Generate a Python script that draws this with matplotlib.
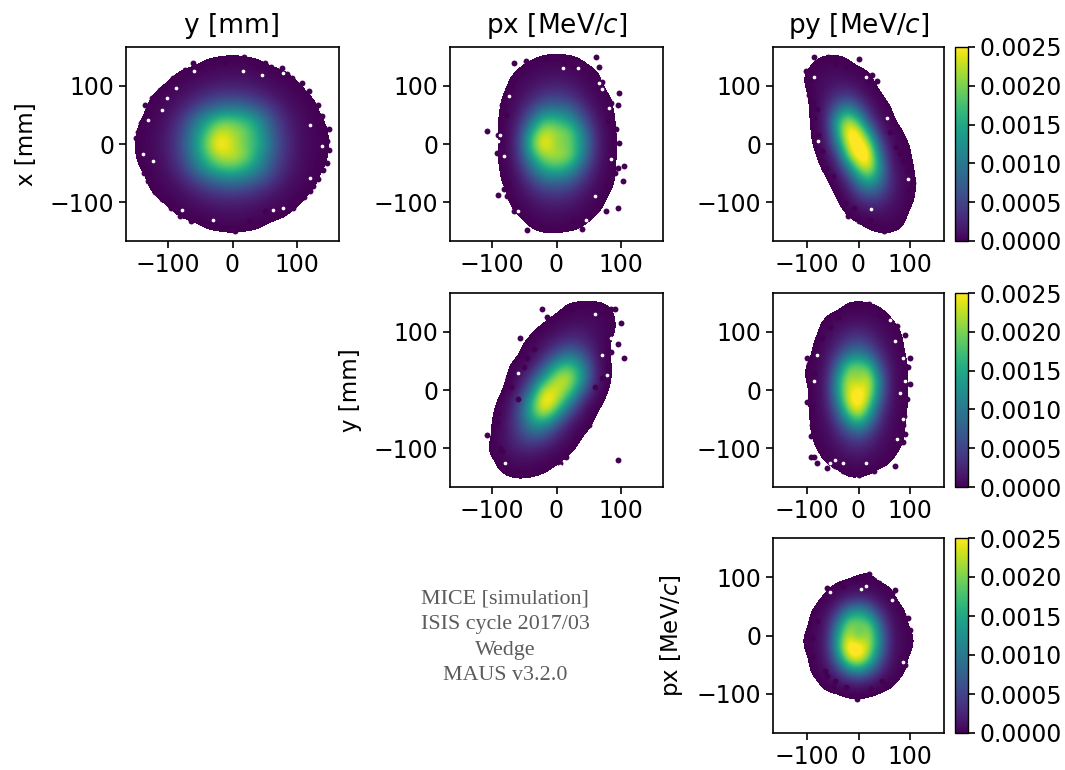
import numpy as np
import matplotlib
matplotlib.use("Agg")
import matplotlib.pyplot as plt
from matplotlib.colors import Normalize
from matplotlib.cm import ScalarMappable

W, H = 1065, 770
bin_centres = list(range(-160, 161, 20))

# Density in units of 1e-4, rows from +160 down to -160, columns from -160 to +160
x_vs_y = [
[0,0,0,0,0,0,0,0,0,0,0,0,0,0,0,0,0],
[0,0,0,0,0,0,.2,.3,.4,.3,.2,0,0,0,0,0,0],
[0,0,0,0,.2,.4,.7,1,1.1,1,.7,.4,.2,0,0,0,0],
[0,0,0,.2,.6,1.1,1.7,2.2,2.3,2.1,1.6,1,.6,.2,0,0,0],
[0,0,.2,.6,1.2,2.4,3.8,5,5.3,4.8,3.5,2.2,1.1,.5,.15,0,0],
[0,0,.4,1,2.3,5,8,10,11,10,7.5,4.5,2,.9,.4,0,0],
[0,.15,.6,1.5,4,9,14,19,19,17,13,7,3,1.2,.5,.15,0],
[0,.25,.8,2,5,11,18,24,22,20,15,8,3.7,1.4,.6,.25,0],
[0,.3,.9,2.2,5.5,12,20,27,23,19,16,9,4,1.5,.6,.3,0],
[0,.3,.8,2,5,11,18,23,23,21,14,8,3.7,1.4,.6,.25,0],
[0,.15,.6,1.5,4,8.5,14,18,19,16,12,6.5,3,1.2,.5,.15,0],
[0,0,.4,1,2.3,5,8,10,11,10,7.5,4.5,2,.9,.4,0,0],
[0,0,.2,.6,1.2,2.4,3.8,5,5.3,4.8,3.5,2.2,1.1,.5,.15,0,0],
[0,0,0,.2,.6,1.1,1.7,2.2,2.3,2.1,1.6,1,.6,.2,0,0,0],
[0,0,0,0,.2,.4,.7,1,1.1,1,.7,.4,.2,0,0,0,0],
[0,0,0,0,0,0,.2,.3,.4,.3,.2,0,0,0,0,0,0],
[0,0,0,0,0,0,0,0,0,0,0,0,0,0,0,0,0],
]
x_vs_px = [
[0,0,0,0,0,0,0,0,0,0,0,0,0,0,0,0,0],
[0,0,0,0,0,0,.15,.4,.5,.4,.15,0,0,0,0,0,0],
[0,0,0,0,0,.2,.7,1,1.1,.9,.5,.2,0,0,0,0,0],
[0,0,0,0,0,.6,1.3,2.2,2.5,2,1,.3,0,0,0,0,0],
[0,0,0,0,.15,.9,2.5,4.5,5,4,1.9,.6,.15,0,0,0,0],
[0,0,0,0,.2,1.4,5,9.5,10,8.5,4,1,.2,0,0,0,0],
[0,0,0,0,.25,2.2,9,18,17,14,7,1.7,.25,0,0,0,0],
[0,0,0,0,.25,3,15,24,21,20,11,2.5,.3,0,0,0,0],
[0,0,0,0,.25,3.3,18,27,20,20,12,2.8,.3,0,0,0,0],
[0,0,0,0,.25,3,14,22,22,21,11,2.5,.3,0,0,0,0],
[0,0,0,0,.2,2,9,16,18,15,7,1.8,.3,0,0,0,0],
[0,0,0,0,.15,1.3,5,9.5,10,8.5,4,1.1,.25,0,0,0,0],
[0,0,0,0,0,.8,2.5,4.5,5,4,2,.7,.15,0,0,0,0],
[0,0,0,0,0,.4,1.2,2.2,2.5,2,1,.4,0,0,0,0,0],
[0,0,0,0,0,.1,.5,1,1.1,.9,.4,.15,0,0,0,0,0],
[0,0,0,0,0,0,.15,.4,.4,.3,.15,0,0,0,0,0,0],
[0,0,0,0,0,0,0,0,0,0,0,0,0,0,0,0,0],
]
x_vs_py = [
[0,0,0,0,0,0,0,0,0,0,0,0,0,0,0,0,0],
[0,0,0,0,.2,.4,.4,.2,0,0,0,0,0,0,0,0,0],
[0,0,0,.2,.5,.8,.8,.6,.4,.15,0,0,0,0,0,0,0],
[0,0,0,.15,.7,1.3,2,2,1,.4,0,0,0,0,0,0,0],
[0,0,0,0,.6,2,4,5,3,1,.25,0,0,0,0,0,0],
[0,0,0,0,.5,3,9,13,8,2.5,.7,.15,0,0,0,0,0],
[0,0,0,0,.4,3.5,16,23,17,6,1.3,.3,0,0,0,0,0],
[0,0,0,0,.3,2.8,15,27,26,14,3,.8,.2,0,0,0,0],
[0,0,0,0,.2,1.8,11,25,28,23,7,1.2,.4,.1,0,0,0],
[0,0,0,0,0,1,5,20,28,27,11,2,.5,.15,0,0,0],
[0,0,0,0,0,.3,2.5,10,21,25,14,2.8,.8,.2,0,0,0],
[0,0,0,0,0,0,.8,4,12,17,11,3.5,1,.3,0,0,0],
[0,0,0,0,0,0,.2,1.8,6,9,7,3,1,.3,0,0,0],
[0,0,0,0,0,0,0,.6,2.2,3.5,3.2,1.8,.7,.2,0,0,0],
[0,0,0,0,0,0,0,.1,.5,1,1.1,.9,.5,0,0,0,0],
[0,0,0,0,0,0,0,0,0,.2,.4,.4,.2,0,0,0,0],
[0,0,0,0,0,0,0,0,0,0,0,0,0,0,0,0,0],
]
y_vs_px = [
[0,0,0,0,0,0,0,0,0,0,0,0,0,0,0,0,0],
[0,0,0,0,0,0,0,0,0,.3,.4,.4,.2,0,0,0,0],
[0,0,0,0,0,0,0,0,.3,.7,.9,.7,.3,0,0,0,0],
[0,0,0,0,0,0,0,.4,1.2,2,2,1,.3,0,0,0,0],
[0,0,0,0,0,0,.3,1.2,3,4.5,3.5,1.3,0,0,0,0,0],
[0,0,0,0,0,0,.7,2.8,7,11,7,1.5,0,0,0,0,0],
[0,0,0,0,0,.4,1.6,7,16,19,12,2,0,0,0,0,0],
[0,0,0,0,0,.7,5,14,23,23,13,2,0,0,0,0,0],
[0,0,0,0,0,1.5,9,24,24,20,8,.8,0,0,0,0,0],
[0,0,0,0,.3,4,15,28,23,12,2.5,.3,0,0,0,0,0],
[0,0,0,0,.7,5,16,24,15,5,1,0,0,0,0,0,0],
[0,0,0,0,1.1,5,12,13,6,1.6,.4,0,0,0,0,0,0],
[0,0,0,0,1.2,4,7,6,2.5,.7,0,0,0,0,0,0,0],
[0,0,0,.2,1.1,2.5,3,2,.9,.2,0,0,0,0,0,0,0],
[0,0,0,0,.6,1,1,.6,.2,0,0,0,0,0,0,0,0],
[0,0,0,0,.2,.4,.3,.15,0,0,0,0,0,0,0,0,0],
[0,0,0,0,0,0,0,0,0,0,0,0,0,0,0,0,0],
]
y_vs_py = [
[0,0,0,0,0,0,0,0,0,0,0,0,0,0,0,0,0],
[0,0,0,0,0,0,0,.3,.4,.3,.15,0,0,0,0,0,0],
[0,0,0,0,0,.2,.6,.9,1,.9,.6,.2,0,0,0,0,0],
[0,0,0,0,0,.7,1.4,2.5,3,2.2,1.1,.5,.15,0,0,0,0],
[0,0,0,0,.2,1,2.5,5,6,4.5,2,.8,.2,0,0,0,0],
[0,0,0,0,.3,1.5,5,10,12,9,4,1.2,.3,0,0,0,0],
[0,0,0,.15,.5,2,9,19,20,18,7,1.6,.5,0,0,0,0],
[0,0,0,.15,.6,2.5,13,23,20,24,11,1.8,.5,0,0,0,0],
[0,0,0,0,.6,2.5,14,24,26,24,11,1.8,.5,0,0,0,0],
[0,0,0,0,.6,2.3,11,24,28,21,8,1.5,.5,0,0,0,0],
[0,0,0,0,.5,1.8,7,18,24,15,5,1.2,.4,0,0,0,0],
[0,0,0,0,.4,1.2,4,10,14,9,3,.9,.3,0,0,0,0],
[0,0,0,0,.3,.9,2.2,4.5,6,4,1.6,.7,.25,0,0,0,0],
[0,0,0,0,.1,.6,1.2,2.2,2.6,2,1,.4,.15,0,0,0,0],
[0,0,0,0,0,.2,.6,.9,1.1,.8,.5,.2,0,0,0,0,0],
[0,0,0,0,0,0,0,.3,.3,.2,0,0,0,0,0,0,0],
[0,0,0,0,0,0,0,0,0,0,0,0,0,0,0,0,0],
]
px_vs_py = [
[0,0,0,0,0,0,0,0,0,0,0,0,0,0,0,0,0],
[0,0,0,0,0,0,0,0,0,0,0,0,0,0,0,0,0],
[0,0,0,0,0,0,0,0,0,0,0,0,0,0,0,0,0],
[0,0,0,0,0,0,0,0,.15,.25,0,0,0,0,0,0,0],
[0,0,0,0,0,0,.3,.6,.8,.6,.3,.15,0,0,0,0,0],
[0,0,0,0,0,.4,1.4,3,4,3,1.3,.4,0,0,0,0,0],
[0,0,0,0,.3,1.2,4.5,12,15,11,4,1,.3,0,0,0,0],
[0,0,0,0,.6,2,10,21,20,20,9,1.8,.5,0,0,0,0],
[0,0,0,.2,.7,2.6,14,24,17,23,12,2.3,.7,.2,0,0,0],
[0,0,0,.2,.7,2.7,15,28,28,23,12,2.3,.7,.2,0,0,0],
[0,0,0,0,.6,2,10,23,26,19,8,1.7,.5,0,0,0,0],
[0,0,0,0,.4,1.2,4,10,13,9,3.5,1,.3,0,0,0,0],
[0,0,0,0,0,.5,1,2,2.5,1.8,.8,.3,0,0,0,0,0],
[0,0,0,0,0,0,0,.15,.2,.1,0,0,0,0,0,0,0],
[0,0,0,0,0,0,0,0,0,0,0,0,0,0,0,0,0],
[0,0,0,0,0,0,0,0,0,0,0,0,0,0,0,0,0],
[0,0,0,0,0,0,0,0,0,0,0,0,0,0,0,0,0],
]

# Isolated speckle at the edge of each cloud
x_vs_y_edge_h = [18,-61,-50,-40,-30,-20,-12,-4,32,40,50,60,76,85,92,107,118,133,138,149,146,143,149,146,140,133,125,120,110,94,80,68,50,37,25,4,-5,-14,-25,-35,-50,-64,-82,-96,-110,-120,-131,-137,-141,-145,-149,-146,-141,-136,-125,-113,-105,-92,-74]
x_vs_y_edge_v = [150,139,133,139,140,146,142,148,139,132,139,132,130,120,113,105,92,67,48,26,5,14,-10,-33,-45,-61,-72,-81,-92,-110,-118,-115,-115,-140,-132,-150,-143,-144,-137,-139,-134,-133,-124,-110,-95,-82,-64,-50,-33,-18,10,20,36,67,80,93,100,113,127]
x_vs_px_edge_h = [-107,-66,-47,-33,-17,-4,12,25,61,66,71,97,95,85,92,80,97,88,105,103,95,90,79,95,76,65,40,25,-46,-38,-25,-66,-62,-90,-77,-82,-75,-92,-88,-90,-84,-74,-66,-78,-70,-55]
x_vs_px_edge_v = [23,139,143,143,147,150,137,135,150,132,107,87,67,70,26,40,2,-15,-38,-63,-41,-50,-73,-110,-115,-105,-147,-135,-148,-135,-142,-115,-105,-87,-90,-77,-68,-15,5,16,67,85,110,50,100,122]
x_vs_py_edge_h = [-85,-59,-45,-25,0,-101,-90,26,18,35,-95,-88,-85,-78,-72,-62,-50,-26,-20,-8,0,105,98,95,85,49,33,22,-80,-70,60,72,80]
x_vs_py_edge_v = [150,150,140,135,146,125,112,118,110,108,85,70,45,15,-30,-42,-55,-101,-124,-110,-133,-67,-80,-47,-30,-150,-141,-130,60,-12,20,-5,-15]
y_vs_px_edge_h = [-107,-57,-22,-15,24,40,60,70,85,90,100,105,95,85,80,70,60,-90,-92,-85,-60,-30,-82,-88,95,-45,-35,-75,-70,-60,-50,-20,5,15,30,50]
y_vs_px_edge_v = [-77,90,140,125,140,145,145,135,140,140,115,55,80,65,40,20,5,-40,-55,-105,-140,-140,-135,-100,-120,55,70,20,5,-15,40,-135,-125,-115,-85,-60]
y_vs_py_edge_h = [-100,-95,-85,-100,-90,-92,-85,-90,100,95,100,85,-5,20,40,-92,-80,-60,-30,0,30,65,85,90,-70,-55,-40,55,75,90,-95,93,88,70,-70,-45,15]
y_vs_py_edge_v = [55,40,30,-20,-60,-80,-115,-30,55,40,10,-60,148,148,130,-115,-125,-135,-140,-147,-140,-110,-90,-75,90,108,125,125,110,95,45,-15,-45,-130,-105,-130,-135]
px_vs_py_edge_h = [-3,-60,-30,20,40,70,100,95,-90,-100,-90,-65,-50,-25,25,45,90,10,-5,30,-85,-80,85,-60,-45,65,55]
px_vs_py_edge_v = [-108,82,85,105,90,78,10,30,-5,0,-35,-60,-88,-88,-92,-78,-50,102,95,95,40,25,35,-70,-78,72,-85]

# Small gaps inside the ragged fringe of each cloud
x_vs_y_gap_h = [-87,-102,-110,-131,-139,-123,138,120,120,63,79,-79,79,17,45,-60,-30]
x_vs_y_gap_v = [96,79,59,42,-18,-30,-4,33,-58,-113,-110,-113,122,125,119,125,-130]
x_vs_px_gap_h = [-73,-87,-82,66,71,82,-90,85,-60,60,45,10,33]
x_vs_px_gap_v = [82,15,-20,105,95,62,5,-25,-115,-90,-130,130,130]
x_vs_py_gap_h = [-85,15,25,55,-78,95]
x_vs_py_gap_v = [115,115,-112,45,5,-60]
y_vs_px_gap_h = [-60,70,78,85,5,60,-80]
y_vs_px_gap_v = [30,60,25,90,-130,130,-125]
y_vs_py_gap_h = [-80,-85,85,90,80,-55,75,85,-45,-30,15,60,70]
y_vs_py_gap_v = [60,15,55,15,-5,-125,-85,-50,-120,-125,-125,120,85]
px_vs_py_gap_h = [5,15,-55,65,85]
px_vs_py_gap_v = [80,85,75,60,-45]

col_titles = ["y [mm]", r"px [MeV/$c$]", r"py [MeV/$c$]"]
row_labels = ["x [mm]", "y [mm]", r"px [MeV/$c$]"]
tick_values = [-100, 0, 100]
cbar_ticks = [0.0, 0.0005, 0.0010, 0.0015, 0.0020, 0.0025]
note_lines = ["MICE [simulation]", "ISIS cycle 2017/03", "Wedge", "MAUS v3.2.0"]

fig = plt.figure(figsize=(W/100, H/100), dpi=100)

def px_axes(l, t, r, b):
    return fig.add_axes([l/W, 1-b/H, (r-l)/W, (b-t)/H])

cmap = plt.get_cmap("viridis").copy()
cmap.set_under((1, 1, 1, 0))
dark = cmap(0.0)
SCALE = 1e-4
FLOOR = 0.15 * SCALE

def panel(box, grid, ex, ey, gx, gy):
    ax = px_axes(*box)
    half = (bin_centres[1]-bin_centres[0])/2
    ext = (bin_centres[0]-half, bin_centres[-1]+half, bin_centres[0]-half, bin_centres[-1]+half)
    ax.imshow(np.array(grid)*SCALE, cmap=cmap, vmin=FLOOR, vmax=0.0025, extent=ext, origin="upper",
              aspect="auto", interpolation="bicubic", interpolation_stage="data")
    ax.scatter(ex, ey, s=18, color=dark, linewidths=0, zorder=2)
    ax.scatter(gx, gy, s=7, color="white", linewidths=0, zorder=3)
    ax.set_xlim(-165, 165)
    ax.set_ylim(-167, 167)
    ax.set_xticks(tick_values)
    ax.set_yticks(tick_values)
    ax.tick_params(labelsize=17, width=1.2, length=5)
    for s in ax.spines.values():
        s.set_linewidth(1.2)
    return ax

def cbar(box):
    cax = px_axes(*box)
    cb = fig.colorbar(ScalarMappable(Normalize(0, 0.0025), "viridis"), cax=cax)
    cb.set_ticks(cbar_ticks)
    cb.ax.set_yticklabels([f"{v:.4f}" for v in cbar_ticks])
    cb.ax.tick_params(labelsize=17, width=1.2, length=5)
    cb.outline.set_linewidth(1.0)

a1 = panel((126, 47, 339, 241), x_vs_y, x_vs_y_edge_h, x_vs_y_edge_v, x_vs_y_gap_h, x_vs_y_gap_v)
a2 = panel((450, 47, 663, 241), x_vs_px, x_vs_px_edge_h, x_vs_px_edge_v, x_vs_px_gap_h, x_vs_px_gap_v)
a3 = panel((773, 47, 944, 241), x_vs_py, x_vs_py_edge_h, x_vs_py_edge_v, x_vs_py_gap_h, x_vs_py_gap_v)
a4 = panel((450, 293, 663, 487), y_vs_px, y_vs_px_edge_h, y_vs_px_edge_v, y_vs_px_gap_h, y_vs_px_gap_v)
a5 = panel((773, 293, 944, 487), y_vs_py, y_vs_py_edge_h, y_vs_py_edge_v, y_vs_py_gap_h, y_vs_py_gap_v)
a6 = panel((773, 538, 944, 733), px_vs_py, px_vs_py_edge_h, px_vs_py_edge_v, px_vs_py_gap_h, px_vs_py_gap_v)

cbar((955, 47, 968, 241))
cbar((955, 293, 968, 487))
cbar((955, 538, 968, 733))

for ax, t in zip((a1, a2, a3), col_titles):
    ax.set_title(t, fontsize=19, pad=10)
for ax, t in zip((a1, a4, a6), row_labels):
    ax.set_ylabel(t, fontsize=16.5, labelpad=8)

fig.text(505/W, 1-637.5/H, "\n".join(note_lines), ha="center", va="center",
         family="Liberation Serif", fontsize=15.8, color="#5c5c5c", linespacing=1.47)

fig.savefig("out.png", dpi=100)
